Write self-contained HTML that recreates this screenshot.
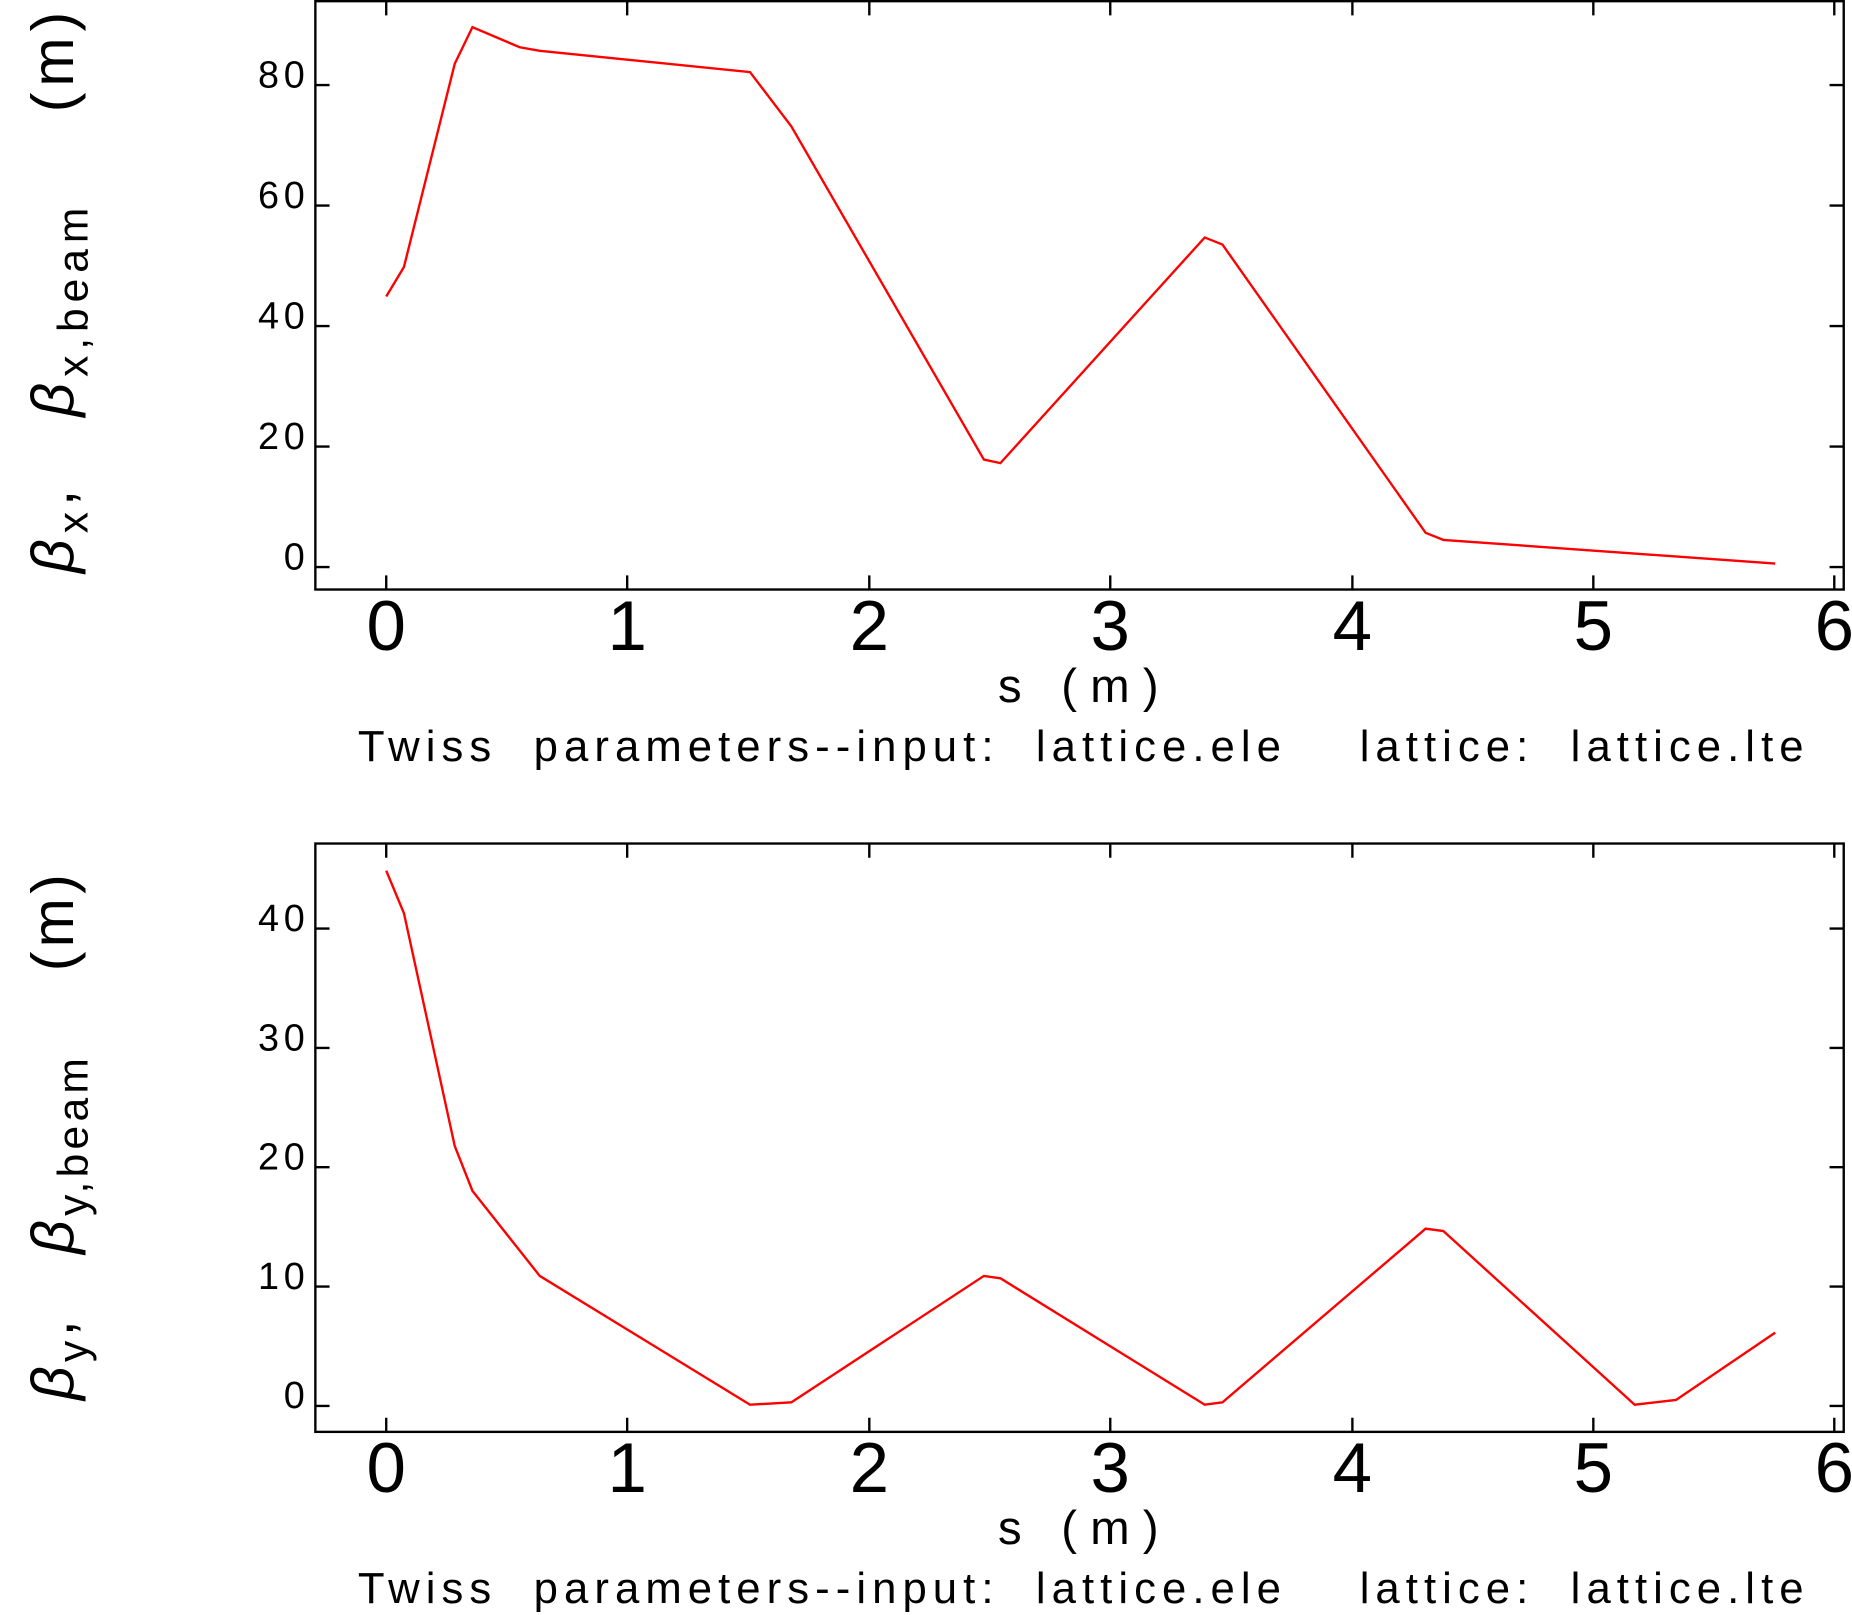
<!DOCTYPE html>
<html><head><meta charset="utf-8"><style>
html,body{margin:0;padding:0;background:#fff;}
svg{display:block;}
text{font-family:"Liberation Sans","DejaVu Sans",sans-serif;fill:#000;white-space:pre;}
</style></head><body>
<svg width="1852" height="1615" viewBox="0 0 1568 1367" preserveAspectRatio="none" xmlns="http://www.w3.org/2000/svg" xml:space="preserve">
<!-- TOP PLOT -->
<g stroke="#000" stroke-width="2" fill="none">
<rect x="267" y="1" width="1294" height="498"/>
<path d="M327 499v-12M531 499v-12M736 499v-12M940 499v-12M1145 499v-12M1349 499v-12M1553 499v-12
M327 1v12M531 1v12M736 1v12M940 1v12M1145 1v12M1349 1v12M1553 1v12
M267 480h12M267 378h12M267 276h12M267 174h12M267 72h12
M1561 480h-12M1561 378h-12M1561 276h-12M1561 174h-12M1561 72h-12"/>
</g>
<g font-size="32" text-anchor="end" letter-spacing="4">
<text x="262" y="482">0</text><text x="262" y="380">20</text><text x="262" y="278">40</text><text x="262" y="176">60</text><text x="262" y="74">80</text>
</g>
<g font-size="60" text-anchor="middle">
<text x="327" y="550">0</text><text x="531" y="550">1</text><text x="736" y="550">2</text><text x="940" y="550">3</text><text x="1145" y="550">4</text><text x="1349" y="550">5</text><text x="1553" y="550">6</text>
</g>
<text x="845" y="594" font-size="40" textLength="136" lengthAdjust="spacing">s (m)</text>
<text x="303" y="644" font-size="37" textLength="1224" lengthAdjust="spacing">Twiss  parameters--input:  lattice.ele    lattice:  lattice.lte</text>
<text transform="translate(62,485) rotate(-90)" font-size="50" textLength="475" lengthAdjust="spacing"><tspan font-style="italic">β</tspan><tspan font-size="36" dy="12">x</tspan><tspan dy="-12">,   </tspan><tspan font-style="italic">β</tspan><tspan font-size="36" dy="12">x,beam</tspan><tspan dy="-12">    (m)</tspan></text>
<polyline fill="none" stroke="#f00" stroke-width="2" points="327,251 342,226 385,54 400,23 440,40 457,43 635,61 670,107 833,389 847,392 1020,201 1035,207 1207,451 1222,457 1503,477"/>

<!-- BOTTOM PLOT -->
<g stroke="#000" stroke-width="2" fill="none">
<rect x="267" y="714" width="1294" height="498"/>
<path d="M327 1212v-12M531 1212v-12M736 1212v-12M940 1212v-12M1145 1212v-12M1349 1212v-12M1553 1212v-12
M327 714v12M531 714v12M736 714v12M940 714v12M1145 714v12M1349 714v12M1553 714v12
M267 1190h12M267 1089h12M267 988h12M267 887h12M267 786h12
M1561 1190h-12M1561 1089h-12M1561 988h-12M1561 887h-12M1561 786h-12"/>
</g>
<g font-size="32" text-anchor="end" letter-spacing="4">
<text x="262" y="1192">0</text><text x="262" y="1091">10</text><text x="262" y="990">20</text><text x="262" y="889">30</text><text x="262" y="788">40</text>
</g>
<g font-size="60" text-anchor="middle">
<text x="327" y="1263">0</text><text x="531" y="1263">1</text><text x="736" y="1263">2</text><text x="940" y="1263">3</text><text x="1145" y="1263">4</text><text x="1349" y="1263">5</text><text x="1553" y="1263">6</text>
</g>
<text x="845" y="1307" font-size="40" textLength="136" lengthAdjust="spacing">s (m)</text>
<text x="303" y="1357" font-size="37" textLength="1224" lengthAdjust="spacing">Twiss  parameters--input:  lattice.ele    lattice:  lattice.lte</text>
<text transform="translate(62,1185) rotate(-90)" font-size="50" textLength="445" lengthAdjust="spacing"><tspan font-style="italic">β</tspan><tspan font-size="36" dy="12">y</tspan><tspan dy="-12">,   </tspan><tspan font-style="italic">β</tspan><tspan font-size="36" dy="12">y,beam</tspan><tspan dy="-12">    (m)</tspan></text>
<polyline fill="none" stroke="#f00" stroke-width="2" points="327,737 342,773 385,970 400,1008 457,1080 635,1189 670,1187 833,1080 847,1082 1020,1189 1035,1187 1207,1040 1222,1042 1384,1189 1419,1185 1503,1128"/>
</svg>
</body></html>
